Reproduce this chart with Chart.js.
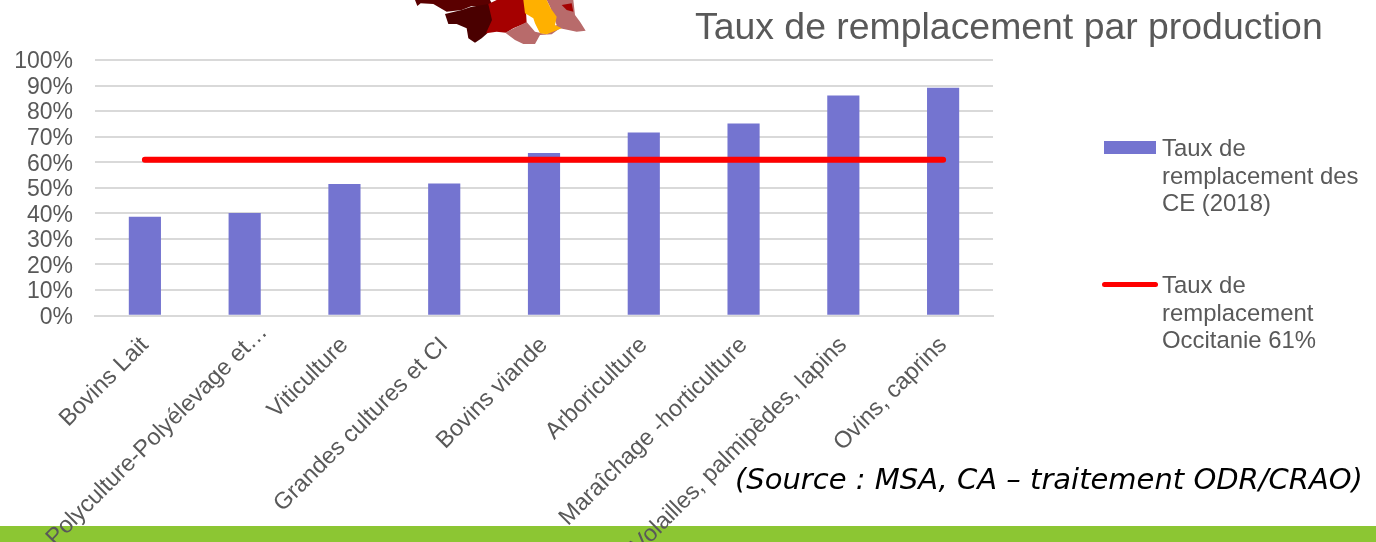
<!DOCTYPE html>
<html lang="fr">
<head>
<meta charset="utf-8">
<title>Taux de remplacement par production</title>
<script src="https://cdn.jsdelivr.net/npm/chart.js@4/dist/chart.umd.min.js"></script>
<style>
    html, body { margin: 0; padding: 0; background: #fff; overflow: hidden; }
    #page { position: relative; width: 1376px; height: 542px; overflow: hidden; font-family: "Liberation Sans", Arial, sans-serif; }
    #band { position: absolute; left: 0; top: 526px; width: 1376px; height: 16px; background: #8CC633; }
    #map { position: absolute; left: 400px; top: 0; }
    #chart-box { position: absolute; left: 0; top: 0; width: 1376px; height: 542px; }
    #title { position: absolute; left: 695px; top: 6px; font-size: 37.4px; line-height: 40px; color: #595959; white-space: nowrap; }
    #source { position: absolute; left: 735px; top: 462px; font-family: "DejaVu Sans", sans-serif; font-style: italic; font-size: 29px; line-height: 34px; color: #000; white-space: nowrap; }
    .legend-text { position: absolute; left: 1162px; font-size: 23.9px; line-height: 27.5px; color: #595959; white-space: nowrap; }
    .legend-key { position: absolute; }
</style>
</head>
<body>
<div id="page">
    <div id="band"></div>
    <svg id="map" width="200" height="50" viewBox="0 0 600 150">
        <polygon fill="#5a0000" points="45,0 52,18 62,10 100,12 140,35 185,30 215,18 280,20 270,0"/>
        <polygon fill="#4a0000" points="135,42 185,30 215,20 280,10 290,45 275,70 262,100 245,115 225,128 205,115 200,85 170,72 145,72"/>
        <polygon fill="#a50000" points="265,12 290,0 375,0 378,35 380,68 340,85 318,98 290,95 258,100 276,60"/>
        <polygon fill="#b86b6b" points="316,98 380,66 405,95 440,103 470,75 450,20 440,0 520,0 525,45 540,65 557,92 530,95 480,85 455,103 420,105 405,132 370,132 345,120"/>
        <polygon fill="#ffb000" points="370,0 440,0 452,25 470,50 465,75 485,85 440,103 420,100 405,70 400,55 375,40"/>
        <polygon fill="#a50000" points="485,15 515,10 520,35 500,30"/>
    </svg>
    <div id="chart-box"><canvas id="replacement-chart"></canvas></div>
    <div id="title">Taux de remplacement par production</div>
    <div id="source">(Source : MSA, CA – traitement ODR/CRAO)</div>
    <div class="legend-key" style="left:1104px;top:141px;width:52px;height:13px;background:#7474D0"></div>
    <div class="legend-text" id="legend-bars" style="top:134px"></div>
    <div class="legend-key" style="left:1102px;top:281.5px;width:56px;height:5px;background:#FF0000;border-radius:3px"></div>
    <div class="legend-text" id="legend-line" style="top:271px"></div>
</div>
<script>
const categories = [
    'Bovins Lait',
    'Polyculture-Polyélevage et…',
    'Viticulture',
    'Grandes cultures et CI',
    'Bovins viande',
    'Arboriculture',
    'Maraîchage -horticulture',
    'Volailles, palmipèdes, lapins',
    'Ovins, caprins',
];
const tauxCE = [38.5, 40, 51.3, 51.5, 63.5, 71.5, 75, 86, 89];
const tauxOccitanie = [61, 61, 61, 61, 61, 61, 61, 61, 61];
const barLegendLines = ['Taux de', 'remplacement des', 'CE (2018)'];
const lineLegendLines = ['Taux de', 'remplacement', 'Occitanie 61%'];

document.getElementById('legend-bars').innerHTML = barLegendLines.join('<br>');
document.getElementById('legend-line').innerHTML = lineLegendLines.join('<br>');

// nudge tick labels the options can't reach
const labelNudge = {
    id: 'labelNudge',
    afterUpdate(chart) {
        chart.scales.y.getLabelItems().forEach((item) => {
            item.options.translation[1] += 2;
        });
        const longLabel = chart.scales.x.getLabelItems()[1];
        longLabel.options.translation[0] += 19;
        longLabel.options.translation[1] -= 13;
    },
};

const ctx = document.getElementById('replacement-chart').getContext('2d');
new Chart(ctx, {
    type: 'bar',
    plugins: [labelNudge],
    data: {
        labels: categories,
        datasets: [
            {
                type: 'line',
                label: 'Taux de remplacement Occitanie 61%',
                data: tauxOccitanie,
                borderColor: '#FF0000',
                borderWidth: 6,
                borderCapStyle: 'round',
                pointRadius: 0,
                tension: 0,
                order: 1,
            },
            {
                label: 'Taux de remplacement des CE (2018)',
                data: tauxCE,
                backgroundColor: '#7474D0',
                barThickness: 31.5,
                order: 2,
            },
        ],
    },
    options: {
        responsive: true,
        maintainAspectRatio: false,
        animation: false,
        layout: { padding: { top: 60, right: 383, left: 0, bottom: 0 } },
        plugins: {
            legend: { display: false },
            tooltip: { enabled: false },
        },
        scales: {
            x: {
                grid: { display: false },
                border: { color: '#D9D9D9', width: 2 },
                afterFit: (scale) => { scale.height = 226.5; },
                ticks: {
                    color: '#595959',
                    font: { family: '"Liberation Sans", Arial, sans-serif', size: 23.5 },
                    minRotation: 45,
                    maxRotation: 45,
                    autoSkip: false,
                    padding: 8,
                },
            },
            y: {
                min: 0,
                max: 100,
                afterFit: (scale) => { scale.width = 95; },
                grid: { color: '#D9D9D9', lineWidth: 2, drawTicks: false },
                border: { display: false },
                ticks: {
                    stepSize: 10,
                    autoSkip: false,
                    color: '#595959',
                    font: { family: '"Liberation Sans", Arial, sans-serif', size: 23 },
                    padding: 22,
                    callback: (value) => value + '%',
                },
            },
        },
    },
});
</script>
</body>
</html>
